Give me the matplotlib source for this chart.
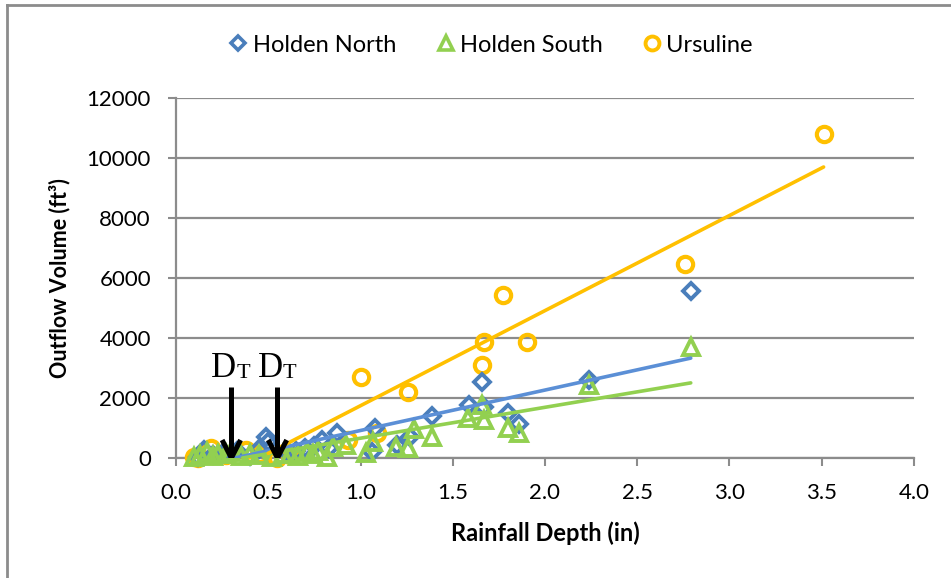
import matplotlib
matplotlib.use("Agg")
import matplotlib.pyplot as plt
from matplotlib.lines import Line2D
import numpy as np

# ---------------- data ----------------
north_x = [2.79, 2.24, 1.66, 1.59, 1.67, 1.80, 1.86, 1.39, 1.27, 1.20, 1.08, 1.06,
           0.87, 0.83, 0.50, 0.49, 0.15, 0.79, 0.20, 0.25, 0.33, 0.40, 0.60, 0.70,
           0.75, 0.12, 0.45, 0.65]
north_y = [5570, 2600, 2530, 1770, 1700, 1500, 1150, 1390, 700, 430, 1000, 200,
           830, 330, 550, 700, 270, 600, 100, 150, 250, 80, 200, 350,
           400, 50, 300, 250]

south_x = [2.79, 2.24, 1.66, 1.58, 1.67, 1.80, 1.86, 1.39, 1.29, 1.26, 1.07, 1.03,
           1.19, 0.85, 0.82, 0.71, 0.10, 0.13, 0.17, 0.20, 0.23, 0.27, 0.30, 0.35,
           0.40, 0.45, 0.52, 0.58, 0.62, 0.66, 0.74, 0.77, 0.92]
south_y = [3700, 2430, 1770, 1330, 1270, 1000, 830, 700, 970, 330, 530, 170,
           370, 370, 20, 200, 20, 100, 200, 60, 150, 120, 200, 80,
           150, 100, 50, 150, 120, 60, 130, 250, 420]

urs_x = [3.51, 2.76, 1.77, 1.67, 1.90, 1.66, 1.00, 1.26, 0.93, 1.09,
         0.10, 0.12, 0.19, 0.27, 0.38, 0.45, 0.55, 0.62]
urs_y = [10800, 6480, 5430, 3870, 3870, 3100, 2700, 2200, 600, 830,
         50, 0, 330, 100, 280, 150, 0, 100]

# trend lines: (start x, end x, slope, intercept)
north_trend = (0.32, 2.79, 1348, -431)
south_trend = (0.36, 2.79, 1030, -370)
urs_trend = (0.50, 3.51, 3170, -1427)

dt_values = [0.30, 0.55]   # threshold depths
dt_arrow_top = 2370

x_ticks = [0.0, 0.5, 1.0, 1.5, 2.0, 2.5, 3.0, 3.5, 4.0]
y_ticks = [0, 2000, 4000, 6000, 8000, 10000, 12000]

# ---------------- style ----------------
BLUE = "#4A7EBB"
BLUE_LINE = "#5B8FD6"
GREEN = "#92D050"
YELLOW = "#FFC000"
GRID = "#8C8C8C"
FONT = "Lato"

plt.rcParams["font.family"] = [FONT, "DejaVu Sans"]

fig = plt.figure(figsize=(9.51, 5.78), dpi=100)
ax = fig.add_axes([176/951, 1-458/578, (914-176)/951, (458-98)/578])

ax.set_xlim(0, 4)
ax.set_ylim(0, 12000)
ax.set_xticks(x_ticks)
ax.set_xticklabels([f"{v:.1f}" for v in x_ticks])
ax.set_yticks(y_ticks)
ax.set_yticklabels([str(v) for v in y_ticks])
ax.tick_params(axis="both", labelsize=16, color=GRID, width=1.5, length=6,
               labelcolor="black")
ax.tick_params(axis="y", pad=12)
ax.tick_params(axis="x", pad=12)
ax.yaxis.grid(True, color=GRID, linewidth=1.6)
ax.set_axisbelow(True)
for s in ["top", "right"]:
    ax.spines[s].set_visible(False)
for s in ["left", "bottom"]:
    ax.spines[s].set_color(GRID)
    ax.spines[s].set_linewidth(1.6)

mew = 2.8
ax.plot(urs_x, urs_y, "o", ms=11, mfc="none", mec=YELLOW, mew=3.0, zorder=3,
        clip_on=False)
ax.plot(north_x, north_y, "D", ms=8.5, mfc="none", mec=BLUE, mew=mew, zorder=4,
        clip_on=False)
ax.plot(south_x, south_y, "^", ms=11, mfc="none", mec=GREEN, mew=mew, zorder=5,
        clip_on=False)

for (x0, x1, m, b), col in [(north_trend, BLUE_LINE), (south_trend, GREEN),
                            (urs_trend, YELLOW)]:
    xs = np.array([x0, x1])
    ax.plot(xs, m*xs + b, color=col, lw=2.6, zorder=6, solid_capstyle="round")

# D_T arrows
for dx in dt_values:
    ax.plot([dx, dx], [dt_arrow_top, 80], color="black", lw=3.6, zorder=7,
            solid_capstyle="butt")
    ax.plot([dx - 0.05, dx, dx + 0.05], [600, 0, 600], color="black", lw=3.6,
            zorder=7, solid_joinstyle="miter", solid_capstyle="butt")
    ax.text(dx + 0.028, 2700, "D", family="Liberation Serif", fontsize=25,
            ha="right", va="baseline", zorder=8)
    ax.text(dx + 0.026, 2680, "T", family="Liberation Serif", fontsize=16,
            ha="left", va="baseline", zorder=8)

ax.set_xlabel("Rainfall Depth (in)", fontsize=17, fontweight="bold", labelpad=13)
ax.set_ylabel("Outflow Volume (ft³)", fontsize=15.5, fontweight="bold", labelpad=12)

handles = [
    Line2D([], [], marker="D", ms=7.5, mfc="none", mec=BLUE, mew=2.6, ls="none"),
    Line2D([], [], marker="^", ms=10, mfc="none", mec=GREEN, mew=2.6, ls="none"),
    Line2D([], [], marker="o", ms=10, mfc="none", mec=YELLOW, mew=2.8, ls="none"),
]
fig.legend(handles, ["Holden North", "Holden South", "Ursuline"],
           loc="center", bbox_to_anchor=(492/951, 1-45/578), ncol=3,
           frameon=False, fontsize=17, handlelength=0.6, handletextpad=0.3,
           columnspacing=1.8)

# chart border (top and left)
fig.add_artist(Line2D([7/951, 7/951], [0, 1-5/578], transform=fig.transFigure,
                      color=GRID, lw=2))
fig.add_artist(Line2D([7/951, 1], [1-5/578, 1-5/578], transform=fig.transFigure,
                      color=GRID, lw=2))

fig.savefig("out.png", dpi=100)
